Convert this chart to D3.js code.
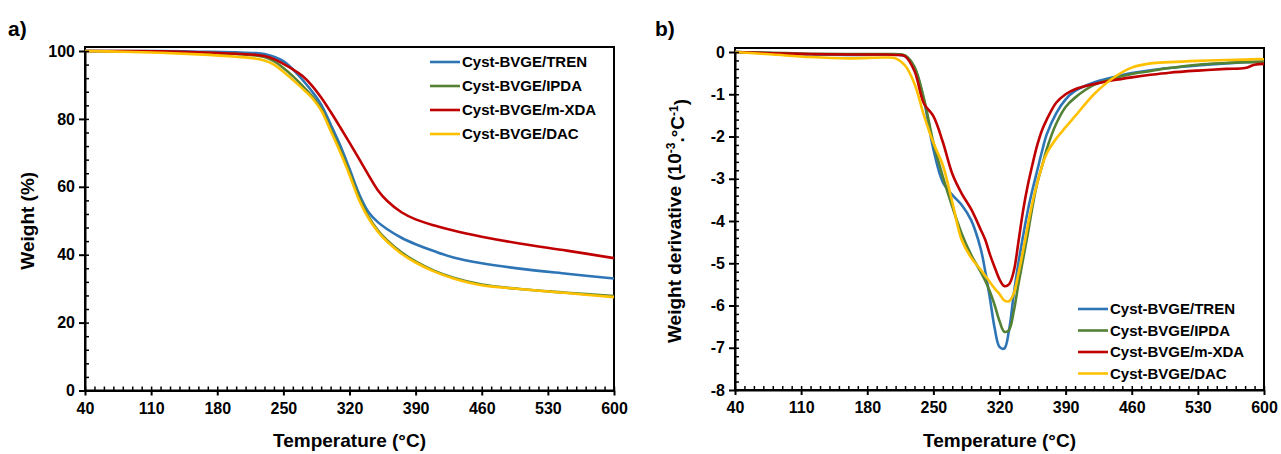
<!DOCTYPE html>
<html>
<head>
<meta charset="utf-8">
<script src="https://cdn.jsdelivr.net/npm/d3@7"></script>
<style>
  body { margin: 0; background: #fff; }
  text { font-family: "Liberation Sans", Arial, sans-serif; font-weight: bold; fill: #000; }
</style>
</head>
<body>
<svg id="chart" width="1281" height="454"></svg>
<script>
// ---------- data ----------
const seriesNames = ["Cyst-BVGE/TREN", "Cyst-BVGE/IPDA", "Cyst-BVGE/m-XDA", "Cyst-BVGE/DAC"];
const seriesColors = ["#2E75B6", "#548235", "#C00000", "#FFC000"];

// a) TGA weight (%)
const tgaTemp = [40, 80, 120, 160, 200, 220, 230, 240, 250, 260, 270, 280, 290, 300, 310, 320, 330, 340, 350, 360, 375, 390, 410, 430, 460, 500, 550, 600];
const tgaTREN = [100, 100, 100, 99.8, 99.6, 99.4, 99.1, 98.3, 97.0, 94.6, 91.6, 88.2, 84.2, 78.4, 72.3, 65.3, 58.0, 52.6, 49.6, 47.5, 45.0, 43.1, 41.0, 39.2, 37.5, 35.9, 34.4, 33.0];
const tgaIPDA = [100, 99.9, 99.8, 99.5, 99.1, 98.7, 98.2, 97.0, 95.0, 92.6, 89.8, 86.8, 83.0, 77.0, 71.0, 64.2, 57.0, 51.3, 47.2, 44.2, 40.7, 38.0, 35.2, 33.2, 31.2, 29.9, 28.8, 27.8];
const tgaMXDA = [100, 100, 99.9, 99.6, 99.2, 98.9, 98.5, 97.6, 96.2, 94.6, 92.7, 89.9, 86.3, 82.1, 77.6, 73.0, 68.3, 63.5, 59.0, 55.8, 52.5, 50.4, 48.6, 47.1, 45.3, 43.3, 41.2, 39.0];
const tgaDAC  = [100, 99.8, 99.5, 99.0, 98.3, 97.8, 97.2, 96.0, 93.9, 91.5, 89.0, 86.3, 82.5, 76.5, 70.3, 63.5, 56.2, 50.8, 46.8, 43.8, 40.3, 37.7, 35.0, 33.0, 31.0, 29.9, 28.7, 27.5];

// b) DTG weight derivative (10^-3 . °C^-1)
const dtgTemp = [40, 80, 120, 160, 200, 210, 220, 230, 240, 250, 260, 270, 280, 290, 300, 305, 310, 315, 320, 325, 330, 335, 340, 345, 350, 355, 360, 365, 370, 380, 390, 400, 420, 440, 460, 480, 500, 530, 560, 580, 590, 600];
const dtgTREN = [0, -0.03, -0.06, -0.07, -0.06, -0.06, -0.1, -0.38, -1.15, -2.3, -3.08, -3.38, -3.62, -3.98, -4.65, -5.2, -5.85, -6.55, -6.98, -7.02, -6.6, -5.75, -5.0, -4.35, -3.75, -3.25, -2.8, -2.35, -1.95, -1.45, -1.12, -0.92, -0.72, -0.6, -0.5, -0.43, -0.38, -0.32, -0.27, -0.24, -0.23, -0.22];
const dtgIPDA = [0, -0.02, -0.04, -0.05, -0.05, -0.05, -0.08, -0.35, -1.1, -2.14, -2.95, -3.66, -4.3, -4.8, -5.2, -5.42, -5.68, -6.0, -6.37, -6.62, -6.58, -6.15, -5.5, -4.9, -4.3, -3.65, -3.1, -2.7, -2.3, -1.7, -1.3, -1.08, -0.78, -0.63, -0.52, -0.45, -0.38, -0.3, -0.26, -0.24, -0.24, -0.23];
const dtgMXDA = [0, -0.03, -0.05, -0.06, -0.06, -0.07, -0.1, -0.45, -1.22, -1.52, -2.13, -2.88, -3.35, -3.72, -4.2, -4.45, -4.8, -5.1, -5.38, -5.54, -5.5, -5.2, -4.5, -3.75, -3.15, -2.65, -2.2, -1.85, -1.6, -1.2, -1.0, -0.88, -0.76, -0.67, -0.6, -0.54, -0.49, -0.44, -0.4, -0.38, -0.3, -0.28];
const dtgDAC  = [0, -0.06, -0.12, -0.15, -0.13, -0.15, -0.32, -0.75, -1.5, -2.15, -2.68, -3.55, -4.45, -4.87, -5.15, -5.3, -5.45, -5.6, -5.73, -5.88, -5.9, -5.72, -5.25, -4.7, -4.1, -3.55, -3.1, -2.7, -2.4, -2.05, -1.78, -1.52, -1.0, -0.62, -0.37, -0.27, -0.24, -0.21, -0.19, -0.18, -0.17, -0.17];

// tick labels
const xTicks = [40, 110, 180, 250, 320, 390, 460, 530, 600];
const tgaYTicks = [0, 20, 40, 60, 80, 100];
const dtgYTicks = [0, -1, -2, -3, -4, -5, -6, -7, -8];

// ---------- layout ----------
const svg = d3.select("#chart");

const panels = [
  {
    letter: "a)", letterX: 8, letterY: 36,
    left: 85, right: 614, top: 51, bottom: 390.5,
    yDomain: [0, 100], yTicks: tgaYTicks, yMinorStep: 4,
    temp: tgaTemp, series: [tgaTREN, tgaIPDA, tgaMXDA, tgaDAC],
    yTitle: "Weight (%)", yTitleX: 27,
    legend: {x: 430, y: 62, dy: 24}
  },
  {
    letter: "b)", letterX: 655, letterY: 36,
    left: 735, right: 1264, top: 52, bottom: 390,
    yDomain: [-8, 0], yTicks: dtgYTicks, yMinorStep: 0.2,
    temp: dtgTemp, series: [dtgTREN, dtgIPDA, dtgMXDA, dtgDAC],
    yTitle: null, yTitleX: 674,
    legend: {x: 1078, y: 309, dy: 21.5}
  }
];

panels.forEach(p => {
  const x = d3.scaleLinear().domain([40, 600]).range([p.left, p.right]);
  const y = d3.scaleLinear().domain(p.yDomain).range([p.bottom, p.top]);
  const g = svg.append("g");

  // plot frame (sits a little above the top value like the original)
  g.append("rect")
    .attr("x", p.left).attr("y", p.top - 4)
    .attr("width", p.right - p.left).attr("height", p.bottom - p.top + 4)
    .style("fill", "none").style("stroke", "#000").style("stroke-width", 2);

  // curves
  const line = d3.line()
    .x(d => x(d[0]))
    .y(d => y(d[1]))
    .curve(d3.curveCatmullRom.alpha(0.5));

  p.series.forEach((vals, i) => {
    const pts = p.temp.map((t, k) => [t, vals[k]]);
    g.append("path")
      .datum(pts)
      .attr("d", line)
      .style("fill", "none")
      .style("stroke", seriesColors[i])
      .style("stroke-width", 2.6);
  });

  // minor ticks, inward
  const xMinor = d3.range(40, 600.01, 10);
  g.append("g")
    .attr("transform", `translate(0,${p.bottom})`)
    .call(d3.axisTop(x).tickValues(xMinor).tickSize(4).tickFormat(""))
    .call(a => a.select(".domain").remove())
    .selectAll("line").style("stroke", "#000").style("stroke-width", 1.5);

  const yMinor = d3.range(0, Math.round((p.yDomain[1] - p.yDomain[0]) / p.yMinorStep) + 1)
    .map(k => p.yDomain[0] + k * p.yMinorStep);
  g.append("g")
    .attr("transform", `translate(${p.left},0)`)
    .call(d3.axisRight(y).tickValues(yMinor).tickSize(4).tickFormat(""))
    .call(a => a.select(".domain").remove())
    .selectAll("line").style("stroke", "#000").style("stroke-width", 1.5);

  // major axes
  const xAx = g.append("g")
    .attr("transform", `translate(0,${p.bottom})`)
    .call(d3.axisBottom(x).tickValues(xTicks).tickSizeInner(5).tickSizeOuter(0).tickPadding(7));
  const yAx = g.append("g")
    .attr("transform", `translate(${p.left},0)`)
    .call(d3.axisLeft(y).tickValues(p.yTicks).tickFormat(d => String(d))
      .tickSizeInner(6).tickSizeOuter(0).tickPadding(4));

  [xAx, yAx].forEach(a => {
    a.selectAll("line,path").style("stroke", "#000").style("stroke-width", 2);
    a.selectAll("text").style("font-size", "16px").style("font-family", "Liberation Sans, Arial, sans-serif")
      .style("font-weight", "bold").style("fill", "#000");
  });

  // x title
  g.append("text")
    .attr("x", (p.left + p.right) / 2).attr("y", 447)
    .style("text-anchor", "middle").style("font-size", "19px")
    .text("Temperature (°C)");

  // y title
  const yt = g.append("text")
    .attr("transform", `translate(${p.yTitleX},${(p.top + p.bottom) / 2}) rotate(-90)`)
    .attr("dy", "0.35em")
    .style("text-anchor", "middle").style("font-size", "19px");
  if (p.yTitle) {
    yt.text(p.yTitle);
  } else {
    yt.append("tspan").text("Weight derivative (10");
    yt.append("tspan").attr("dy", "-0.45em").style("font-size", "12px").text("-3");
    yt.append("tspan").attr("dy", "0.45em").text(".°C");
    yt.append("tspan").attr("dy", "-0.45em").style("font-size", "12px").text("-1");
    yt.append("tspan").attr("dy", "0.45em").text(")");
  }

  // panel letter
  g.append("text")
    .attr("x", p.letterX).attr("y", p.letterY)
    .style("font-size", "21px")
    .text(p.letter);

  // legend
  seriesNames.forEach((name, i) => {
    const ly = p.legend.y + i * p.legend.dy;
    g.append("line")
      .attr("x1", p.legend.x).attr("x2", p.legend.x + 30)
      .attr("y1", ly).attr("y2", ly)
      .style("stroke", seriesColors[i]).style("stroke-width", 2.6);
    g.append("text")
      .attr("x", p.legend.x + 32).attr("y", ly)
      .attr("dy", "0.35em")
      .style("font-size", "15px")
      .text(name);
  });
});
</script>
</body>
</html>
